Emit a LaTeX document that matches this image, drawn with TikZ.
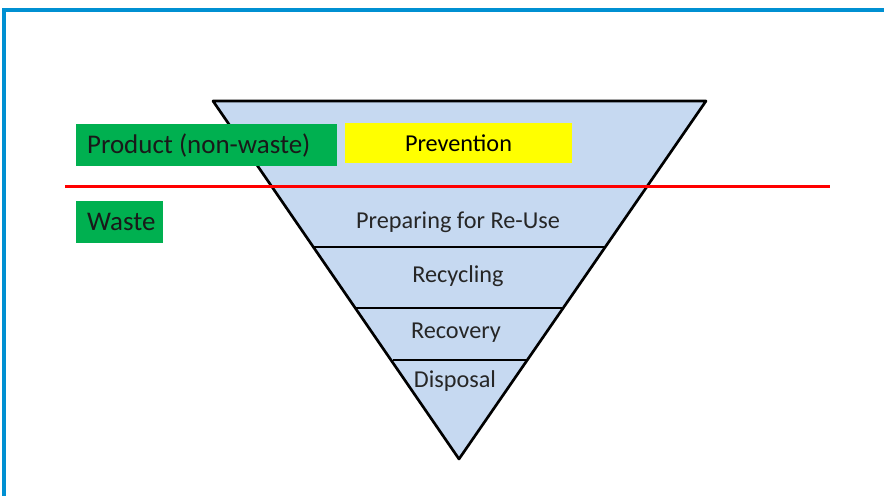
\documentclass[tikz,border=0pt]{standalone}
\usepackage{fontspec}
\setmainfont{Carlito}
\definecolor{framecol}{HTML}{0090D2}
\definecolor{pyramid}{HTML}{C6D9F1}
\definecolor{tagcol}{HTML}{00B050}
\definecolor{prevcol}{HTML}{FFFF00}
\def\unit{0.03}

\begin{document}
\begin{tikzpicture}[x=\unit cm, y=-\unit cm, every node/.style={font=\fontsize{20.7}{25}\selectfont}]
      \tikzset{tag/.style={fill=tagcol, inner sep=0pt, anchor=north west},
               tagtext/.style={anchor=west, text=black!90, font=\fontsize{23}{27}\selectfont},
               level/.style={anchor=center, text=black!85}}
      \useasboundingbox (0,0) rectangle (884,495);
      % frame
      \draw[framecol, line width=1.2mm] (4,500) -- (4,10) -- (890,10);
      % pyramid and its bands
      \coordinate (tl) at (213,101);
      \coordinate (tr) at (706,101);
      \coordinate (apex) at (459,459);
      \draw[fill=pyramid, line width=0.8mm, line join=round] (tl) -- (tr) -- (apex) -- cycle;
      \draw[line width=0.8mm] (313,247) -- (604,247);
      \draw[line width=0.8mm] (355,308) -- (563,308);
      \draw[line width=0.8mm] (393,360) -- (526,360);
      % labels on the left
      \node[tag, minimum width={261*\unit cm}, minimum height={42*\unit cm}] (product) at (76,124) {};
      \node[tagtext] at ([xshift={7*\unit cm}]product.west) {Product (non-waste)};
      \node[tag, minimum width={87*\unit cm}, minimum height={42*\unit cm}] (waste) at (76,201) {};
      \node[tagtext] at ([xshift={7*\unit cm}]waste.west) {Waste};
      % prevention
      \node[fill=prevcol, inner sep=0pt, minimum width={227*\unit cm}, minimum height={40*\unit cm}] (prevention) at (458.5,143) {Prevention};
      % red divider
      \draw[red, line width=0.9mm] (65,186) -- (830,186);
      % levels
      \node[level] (reuse) at (458,222) {Preparing for Re-Use};
      \node[level] (recycling) at (458,276) {Recycling};
      \node[level] (recovery) at (456,333) {Recovery};
      \node[level] (disposal) at (455,381) {Disposal};
\end{tikzpicture}
\end{document}
